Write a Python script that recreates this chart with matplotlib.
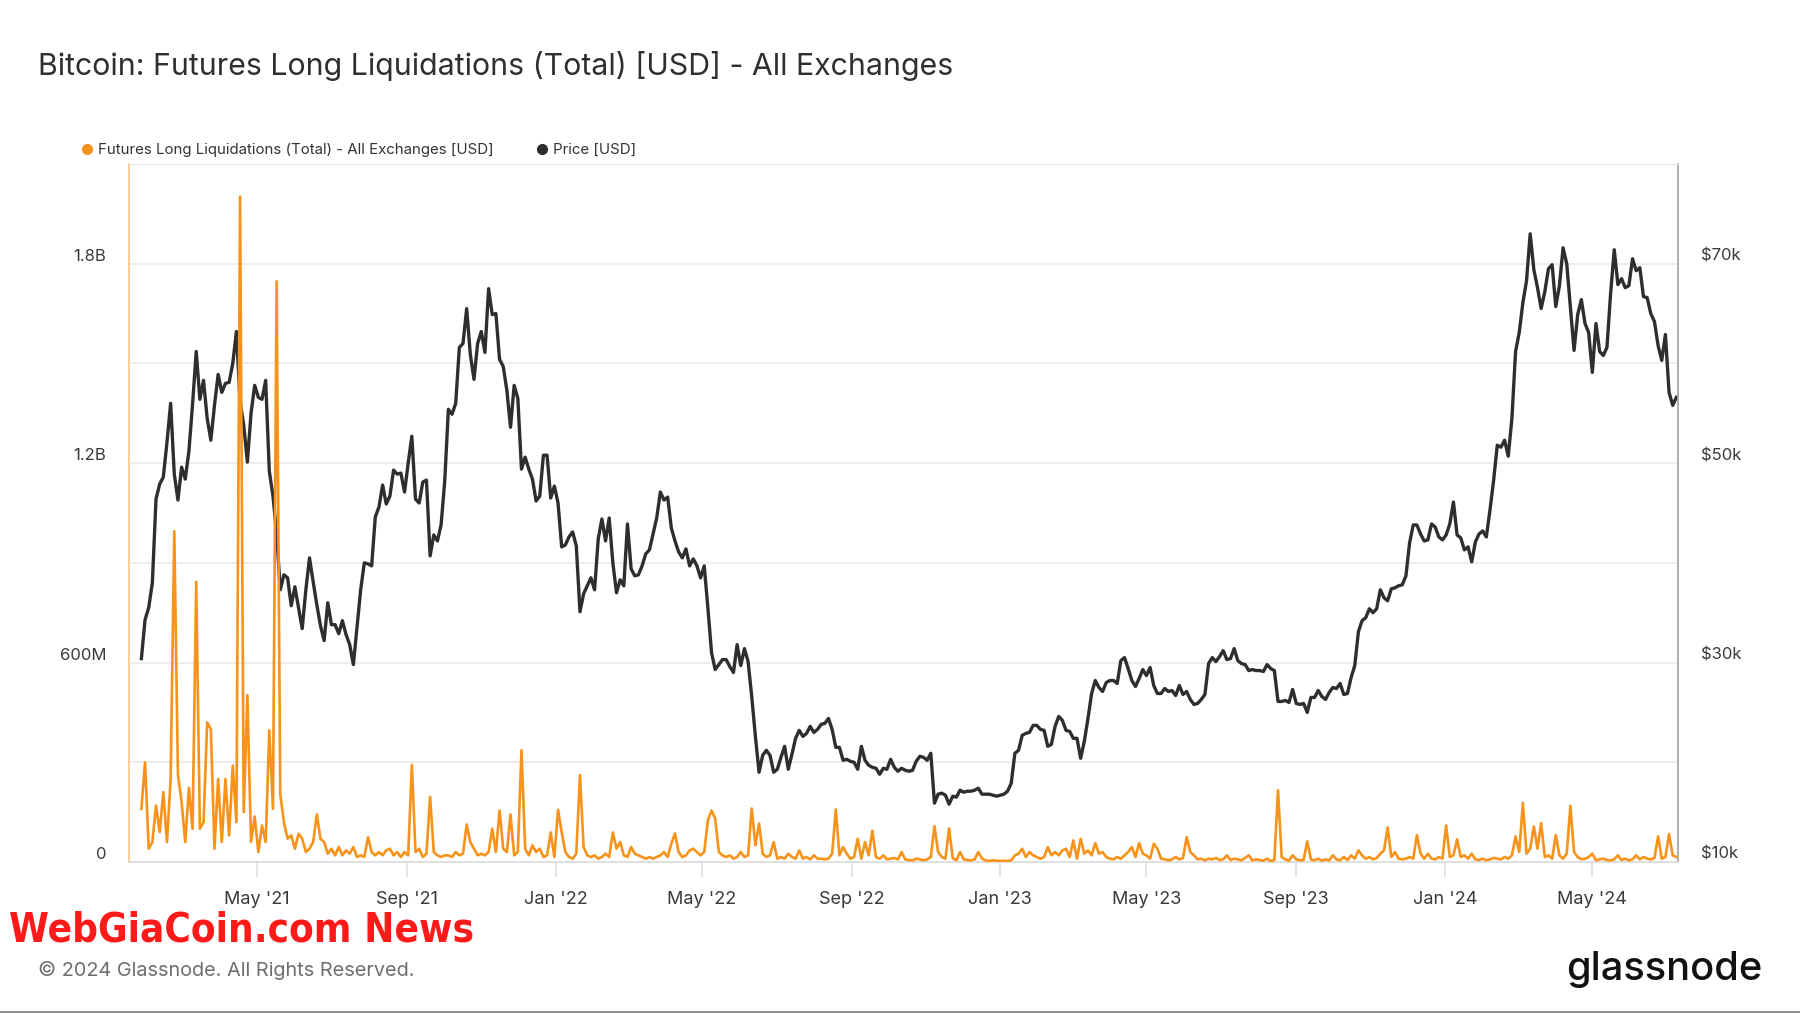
import numpy as np
import pandas as pd
import matplotlib
matplotlib.use("Agg")
import matplotlib.pyplot as plt
import matplotlib.dates as mdates
import matplotlib.transforms as mtrans
from matplotlib.ticker import FixedLocator, FuncFormatter
from matplotlib.lines import Line2D

plt.rcParams['font.family'] = ['Inter', 'DejaVu Sans']

# ---------------- data (3-day samples) ----------------
start_date = "2021-01-26"
step = "3D"

# BTC price, thousands of USD
price_k = [
    30.4, 34.3, 35.5, 38.0, 46.4, 47.9, 48.6, 52.1, 56.0, 48.9,
    46.3, 49.6, 48.4, 51.2, 55.9, 61.2, 56.4, 58.3, 54.5, 52.3,
    55.8, 58.9, 57.1, 58.0, 58.1, 60.0, 63.2, 56.2, 53.8, 50.1,
    55.0, 57.8, 56.6, 56.4, 58.3, 49.2, 46.7, 42.9, 37.3, 38.8,
    38.5, 35.7, 37.6, 35.5, 33.4, 37.3, 40.5, 38.1, 35.8, 33.7,
    32.2, 36.0, 33.8, 33.8, 32.9, 34.2, 32.8, 31.8, 29.8, 33.6,
    37.3, 40.0, 39.9, 39.7, 44.6, 45.6, 47.8, 45.9, 46.7, 49.3,
    48.9, 49.0, 47.1, 50.0, 52.7, 46.4, 46.0, 48.1, 48.3, 40.7,
    42.8, 42.2, 43.8, 48.2, 55.4, 54.9, 56.0, 61.6, 62.0, 65.5,
    60.9, 58.4, 62.0, 63.2, 61.1, 67.5, 64.9, 65.0, 60.4, 59.7,
    57.3, 53.6, 57.8, 56.5, 49.4, 50.6, 49.4, 48.4, 46.2, 46.7,
    50.8, 50.8, 46.5, 47.7, 46.0, 41.6, 41.8, 42.6, 43.1, 41.7,
    35.1, 36.9, 37.7, 38.5, 37.3, 42.4, 44.4, 42.2, 44.5, 40.0,
    37.0, 38.3, 37.7, 43.9, 39.4, 38.7, 38.8, 39.7, 40.9, 41.3,
    42.9, 44.5, 47.1, 46.3, 46.6, 43.5, 42.2, 41.1, 40.5, 41.4,
    39.7, 40.4, 39.7, 38.5, 39.7, 35.5, 31.0, 29.3, 29.8, 30.3,
    30.3, 29.6, 29.0, 31.8, 29.7, 31.4, 30.1, 26.6, 22.6, 19.0,
    20.7, 21.2, 20.7, 19.0, 19.3, 20.5, 21.6, 19.3, 20.8, 22.4,
    23.2, 22.6, 22.9, 23.6, 23.0, 23.3, 23.8, 23.9, 24.4, 23.3,
    21.5, 21.5, 20.2, 20.3, 20.1, 20.0, 19.3, 21.6, 20.2, 19.7,
    19.5, 19.4, 18.8, 19.4, 19.3, 20.3, 19.5, 19.1, 19.4, 19.2,
    19.1, 19.2, 20.1, 20.6, 20.5, 20.2, 20.9, 15.9, 16.8, 16.9,
    16.7, 15.8, 16.6, 16.5, 17.2, 17.0, 17.1, 17.1, 17.2, 17.4,
    16.8, 16.8, 16.8, 16.7, 16.6, 16.7, 16.8, 17.1, 17.9, 20.9,
    21.2, 22.7, 22.9, 23.0, 23.7, 23.7, 23.3, 23.2, 21.6, 21.8,
    23.6, 24.6, 24.2, 23.2, 23.1, 22.4, 22.4, 20.4, 22.1, 24.4,
    26.9, 28.2, 27.5, 27.1, 28.0, 28.2, 28.2, 27.9, 30.2, 30.5,
    29.4, 28.2, 27.6, 28.4, 29.3, 28.7, 29.5, 27.7, 26.9, 26.9,
    27.4, 27.1, 27.2, 26.7, 27.7, 26.8, 27.1, 26.3, 25.8, 25.9,
    26.3, 26.8, 29.9, 30.5, 30.1, 30.6, 31.2, 30.3, 30.4, 31.4,
    30.2, 29.9, 29.8, 29.2, 29.3, 29.2, 29.2, 29.1, 29.8, 29.4,
    29.2, 26.1, 26.1, 26.2, 26.0, 27.3, 25.9, 25.8, 25.9, 25.0,
    26.5, 26.5, 27.2, 26.6, 26.3, 27.0, 27.5, 27.4, 27.9, 26.8,
    26.9, 28.5, 29.7, 33.1, 34.2, 34.5, 35.4, 35.0, 35.4, 37.3,
    36.5, 36.2, 37.4, 37.5, 37.7, 37.8, 38.7, 42.0, 43.8, 43.8,
    42.9, 42.2, 42.3, 43.9, 43.6, 42.6, 42.3, 42.8, 43.9, 46.1,
    42.8, 42.5, 41.3, 41.6, 40.1, 42.1, 42.9, 43.2, 42.6, 45.3,
    48.3, 51.8, 51.6, 52.3, 50.7, 54.5, 61.2, 63.1, 66.1, 68.3,
    73.0, 69.4, 67.6, 65.5, 67.2, 69.5, 69.9, 65.7, 67.8, 71.6,
    70.0, 65.7, 61.3, 64.9, 66.4, 64.0, 63.1, 59.1, 64.0, 61.2,
    60.8, 61.6, 67.0, 71.4, 67.9, 68.5, 67.6, 67.8, 70.5, 69.3,
    69.6, 66.7, 66.6, 65.0, 64.2, 61.8, 60.3, 62.9, 57.1, 55.8,
    56.6,
]

# Futures long liquidations, millions of USD
liq_m = [
    160, 300, 40, 60, 170, 90, 210, 60, 250, 995,
    263, 180, 60, 223, 100, 843, 100, 120, 420, 400,
    40, 250, 60, 250, 80, 290, 120, 2002, 150, 502,
    60, 137, 30, 110, 60, 396, 160, 1747, 203, 120,
    70, 80, 40, 85, 70, 30, 40, 60, 143, 70,
    60, 25, 40, 20, 45, 20, 35, 25, 45, 15,
    20, 15, 74, 30, 20, 30, 20, 35, 40, 20,
    30, 15, 30, 20, 292, 30, 40, 15, 25, 196,
    30, 20, 15, 20, 20, 15, 30, 20, 25, 113,
    60, 40, 20, 25, 20, 30, 100, 30, 155, 40,
    30, 143, 20, 30, 336, 40, 20, 50, 30, 40,
    15, 20, 89, 15, 157, 90, 30, 15, 10, 25,
    262, 45, 20, 15, 20, 10, 15, 25, 15, 89,
    40, 60, 20, 15, 45, 25, 20, 15, 10, 15,
    10, 15, 20, 30, 15, 55, 86, 30, 15, 20,
    35, 40, 30, 20, 30, 125, 155, 131, 30, 20,
    15, 20, 10, 15, 30, 15, 20, 161, 50, 116,
    25, 15, 20, 60, 10, 15, 10, 25, 15, 10,
    35, 10, 15, 8, 20, 10, 10, 8, 10, 25,
    158, 20, 45, 25, 10, 15, 70, 10, 60, 20,
    94, 15, 10, 20, 8, 10, 12, 8, 30, 8,
    6, 5, 10, 8, 5, 8, 15, 108, 30, 15,
    10, 101, 12, 5, 30, 8, 6, 5, 8, 30,
    10, 5, 3, 5, 4, 3, 4, 3, 5, 20,
    25, 40, 15, 30, 20, 15, 10, 15, 45, 20,
    30, 20, 35, 40, 15, 65, 10, 70, 25, 35,
    20, 57, 25, 30, 15, 10, 8, 15, 10, 20,
    30, 45, 15, 57, 25, 20, 10, 55, 40, 10,
    8, 5, 8, 15, 8, 12, 75, 30, 20, 8,
    10, 5, 10, 8, 12, 6, 8, 20, 6, 10,
    8, 5, 12, 20, 5, 8, 6, 4, 10, 3,
    6, 216, 15, 8, 4, 20, 8, 5, 6, 62,
    8, 5, 10, 4, 8, 5, 20, 8, 5, 15,
    6, 20, 10, 35, 20, 10, 15, 8, 12, 25,
    35, 104, 15, 30, 10, 8, 10, 15, 10, 81,
    25, 10, 25, 10, 8, 15, 10, 110, 15, 20,
    68, 15, 20, 10, 25, 8, 6, 10, 5, 8,
    12, 10, 8, 15, 10, 20, 77, 30, 178, 25,
    40, 107, 40, 117, 15, 20, 10, 81, 20, 10,
    25, 169, 30, 15, 8, 10, 15, 25, 5, 8,
    10, 6, 5, 8, 20, 6, 10, 5, 8, 20,
    8, 15, 10, 8, 12, 77, 10, 15, 84, 20,
    15,
]

left_ticks = [0, 600e6, 1.2e9, 1.8e9]
left_labels = ["0", "600M", "1.2B", "1.8B"]
right_ticks = [10e3, 30e3, 50e3, 70e3]
title = "Bitcoin: Futures Long Liquidations (Total) [USD] - All Exchanges"
legend_labels = ["Futures Long Liquidations (Total) - All Exchanges [USD]", "Price [USD]"]

dates = pd.date_range(start_date, periods=len(price_k), freq=step)
price = np.array(price_k) * 1e3
liq = np.array(liq_m) * 1e6

ORANGE = "#f7931a"
DARK = "#2e2e2e"
W, H = 1800, 1013

fig = plt.figure(figsize=(W / 100, H / 100), dpi=100)
fig.patch.set_facecolor("white")

L, R, T, B = 128.6, 1678, 164, 862
ax = fig.add_axes([L / W, 1 - B / H, (R - L) / W, (B - T) / H])
ax2 = ax.twinx()

# price underneath (right axis), liquidations on top (left axis)
ax.set_zorder(ax2.get_zorder() + 1)
ax.patch.set_visible(False)

ax2.plot(dates, price, color=DARK, lw=2.4, solid_joinstyle="round", zorder=3)
ax.plot(dates, liq, color=ORANGE, lw=1.9, solid_joinstyle="round", zorder=3)

ax.set_xlim(pd.Timestamp("2021-01-15 12:00"), pd.Timestamp("2024-07-10 08:00"))
ax.set_ylim(0, 2.1e9)
ax2.set_ylim(10e3, 80e3)

# grid on the lower axis (every $10k == every 300M)
ax2.yaxis.set_major_locator(FixedLocator(right_ticks))
ax2.yaxis.set_minor_locator(FixedLocator([20e3, 40e3, 60e3]))
ax2.yaxis.set_major_formatter(FuncFormatter(lambda v, p: f"${v/1e3:.0f}k"))
ax2.grid(True, which="both", axis="y", color="#e8e8e8", lw=1.1, zorder=0)
ax2.tick_params(axis="y", which="both", length=0, pad=16.5, labelsize=12,
                labelcolor="#3a3a3a")
for s in ax2.spines.values():
    s.set_visible(False)

ax.yaxis.set_major_locator(FixedLocator(left_ticks))
ax.yaxis.set_major_formatter(FuncFormatter(lambda v, p: left_labels[left_ticks.index(v)] if v in left_ticks else ""))
ax.tick_params(axis="y", length=0, pad=16, labelsize=12, labelcolor="#3a3a3a")

ax.xaxis.set_major_locator(mdates.MonthLocator(bymonth=[1, 5, 9]))
ax.xaxis.set_major_formatter(FuncFormatter(lambda v, p: mdates.num2date(v).strftime("%b '%y")))
ax.tick_params(axis="x", direction="out", length=11, width=1.1, color="#dddddd",
               pad=10, labelsize=13, labelcolor="#3a3a3a")

ax.spines["left"].set_color("#fbc98c")
ax.spines["left"].set_linewidth(1.3)
ax.spines["right"].set_color("#a8a8a8")
ax.spines["right"].set_linewidth(1.3)
ax.spines["top"].set_color("#e6e6e6")
ax.spines["bottom"].set_color("#dcdcdc")
ax.spines["bottom"].set_linewidth(1.2)

# y tick labels sit slightly above their grid lines
up = mtrans.ScaledTranslation(0, 6.5 / 72, fig.dpi_scale_trans)
for lab in ax.yaxis.get_majorticklabels():
    lab.set_transform(lab.get_transform() + up)
for lab in ax2.yaxis.get_majorticklabels():
    lab.set_transform(lab.get_transform() + up)

# title, legend, footer
fig.text(38 / W, 1 - 66 / H, title, ha="left", va="center", fontsize=21.8, color="#2f2f2f")

handles = [Line2D([], [], ls="none", marker="o", ms=7, color=ORANGE),
           Line2D([], [], ls="none", marker="o", ms=7, color=DARK)]
fig.legend(handles, legend_labels, loc="center left", bbox_to_anchor=(82 / W, 1 - 150 / H),
           ncol=2, frameon=False, fontsize=10.8, handlelength=0.7, handletextpad=0.35,
           columnspacing=2.9, labelcolor="#333333", borderaxespad=0, borderpad=0)

fig.text(9 / W, 1 - 930 / H, "WebGiaCoin.com News", ha="left", va="center",
         fontsize=29, fontweight="bold", fontstretch="condensed", color="#ff1a1a",
         family=["DejaVu Sans"])
fig.text(38 / W, 1 - 970 / H, "\u00a9 2024 Glassnode. All Rights Reserved.", ha="left",
         va="center", fontsize=14.3, color="#6e6e6e")
fig.text(1762 / W, 1 - 970 / H, "glassnode", ha="right", va="center", fontsize=28.7,
         color="#111111", fontweight="medium")

fig.add_artist(Line2D([0, 1], [1.5 / H, 1.5 / H], transform=fig.transFigure,
                      color="#8a8a8a", lw=2))

fig.savefig("out.png", dpi=100, facecolor="white")
